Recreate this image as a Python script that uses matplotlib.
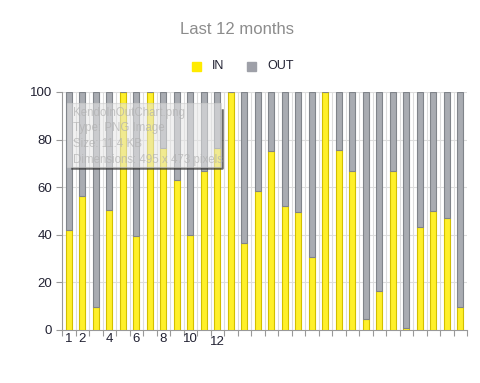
import numpy as np
import matplotlib
matplotlib.use("Agg")
import matplotlib.pyplot as plt
from matplotlib.patches import Rectangle
from matplotlib.lines import Line2D

plt.rcParams['font.family'] = ['Liberation Sans', 'DejaVu Sans']

# Data (percent IN per month, OUT is the remainder)
months = list(range(1, 31))
in_pct = [42.2, 56.1, 9.8, 50.2, 100, 39.3, 100, 76.3, 62.8, 39.8,
          66.8, 76.3, 100, 36.5, 58.2, 75.2, 51.9, 49.5, 30.6, 100,
          75.6, 66.8, 4.8, 16.3, 66.8, 0.7, 43.2, 49.8, 47.0, 9.8]
out_pct = [100 - v for v in in_pct]
tick_labels = ["1", "2", "", "4", "", "6", "", "8", "", "10", "", "12"] + [""] * 18
yticks = [0, 20, 40, 60, 80, 100]

tooltip_lines = ["KendoInOutChart.png", "Type: PNG Image", "Size: 11.4 KB",
                 "Dimensions: 495 x 473 pixels"]

fig = plt.figure(figsize=(4.81, 3.83), dpi=100)
ax = fig.add_axes([0.129, 0.1384, 0.842, 0.6216])

x = np.array(months)
ax.bar(x, in_pct, width=0.42, color="#fff02a", edgecolor="#d2bf00", linewidth=0.8, zorder=3)
ax.bar(x, out_pct, bottom=in_pct, width=0.42, color="#a9acb2", edgecolor="#80848a",
       linewidth=0.8, zorder=3)

ax.set_xlim(0.5, 30.5)
ax.set_ylim(0, 100)
ax.set_yticks(yticks)
ax.set_yticklabels([str(v) for v in yticks], fontsize=9.5, color="#222233")

# category boundaries: ticks and vertical grid
bounds = np.arange(0.5, 31, 1)
ax.set_xticks(bounds)
ax.set_xticklabels([])
ax.set_xticks(x, minor=True)
ax.set_xticklabels(tick_labels, minor=True, fontsize=9.5, color="#222233")
ax.tick_params(axis="x", which="minor", length=0, pad=2)
ax.tick_params(axis="x", which="major", length=4, color="#999999")
ax.tick_params(axis="y", length=4, color="#999999", pad=3)
for lbl in ax.xaxis.get_minorticklabels():
    if lbl.get_text() == "12":
        lbl.set_y(-0.015)

for b in bounds[1:-1]:
    ax.axvline(b, color="#dddddd", linewidth=0.8, zorder=1)
for v in yticks[1:]:
    ax.axhline(v, color="#dddddd", linewidth=0.8, zorder=1)

for s in ["top", "right"]:
    ax.spines[s].set_visible(False)
ax.spines["left"].set_color("#999999")
ax.spines["bottom"].set_color("#999999")

fig.text(0.492, 0.922, "Last 12 months", ha="center", va="center", fontsize=12, color="#8c8c8c")

# legend
fig.patches.append(Rectangle((192 / 481, 1 - 71 / 383), 9 / 481, 9 / 383,
                             transform=fig.transFigure, color="#ffeb00", figure=fig))
fig.text(212 / 481, 1 - 66 / 383, "IN", va="center", fontsize=9, color="#222233")
fig.patches.append(Rectangle((247 / 481, 1 - 71 / 383), 9 / 481, 9 / 383,
                             transform=fig.transFigure, color="#9ea0a8", figure=fig))
fig.text(267 / 481, 1 - 66 / 383, "OUT", va="center", fontsize=9, color="#222233")

# faded tooltip overlay from the screenshot
fig.patches.append(Rectangle((67 / 481, 1 - 167 / 383), 154 / 481, 64 / 383,
                             transform=fig.transFigure, facecolor="#e6e6e6",
                             edgecolor="#cccccc", linewidth=0.8, alpha=0.55, figure=fig, zorder=6))
fig.lines.append(Line2D([72 / 481, 222 / 481, 222 / 481],
                        [1 - 168 / 383, 1 - 168 / 383, 1 - 110 / 383],
                        transform=fig.transFigure, color="#333333", linewidth=1.8,
                        alpha=0.75, figure=fig, zorder=5))
for i, line in enumerate(tooltip_lines):
    fig.text(73 / 481, 1 - (113 + i * 15.5) / 383, line, va="center", fontsize=8.3,
             color="#b0b0b0", alpha=0.7, zorder=7)

fig.savefig("out.png", dpi=100)
